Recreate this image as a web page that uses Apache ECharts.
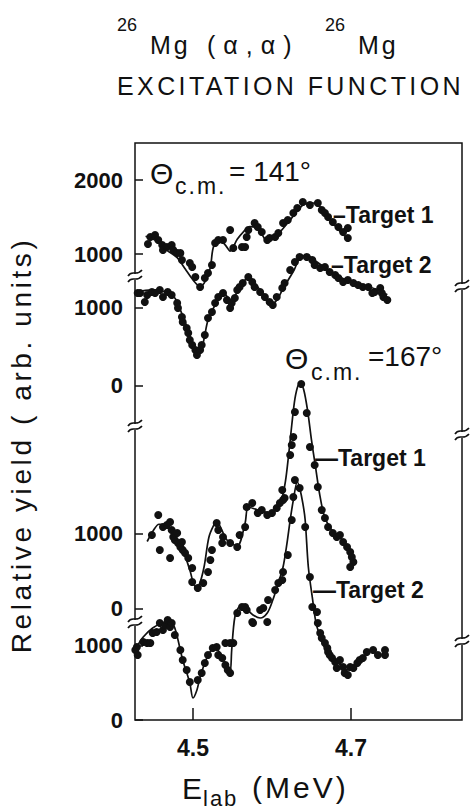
<!DOCTYPE html>
<html>
<head>
<meta charset="utf-8">
<script src="https://cdn.jsdelivr.net/npm/echarts@6/dist/echarts.min.js"></script>
<style>
  html, body { margin: 0; padding: 0; background: #fff; }
  #chart { width: 474px; height: 810px; }
</style>
</head>
<body>
<div id="chart"></div>
<script>
// 26Mg(alpha,alpha)26Mg excitation function: laboratory energy (MeV) vs relative yield (arb. units)

// theta_cm = 141 deg, target 1
const dots141T1 = [
  [4.443,1135],[4.446,1230],[4.452,1257],[4.456,1189],[4.461,1122],[4.462,1054],[4.467,1095],
  [4.473,1122],[4.475,1054],[4.480,1014],[4.484,1014],[4.486,919],[4.496,878],[4.499,824],
  [4.503,689],[4.509,554],[4.515,676],[4.519,743],[4.524,851],[4.528,1149],[4.532,1189],
  [4.538,1189],[4.547,1324],[4.551,1081],[4.562,1095],[4.566,1095],[4.568,1230],[4.570,1324],
  [4.578,1419],[4.582,1365],[4.587,1297],[4.594,1189],[4.597,1216],[4.604,1230],[4.608,1284],
  [4.614,1419],[4.620,1459],[4.627,1554],[4.632,1622],[4.639,1703],[4.648,1662],[4.658,1689],
  [4.663,1594],[4.667,1554],[4.671,1500],[4.677,1432],[4.684,1365],[4.690,1297],[4.696,1351],
  [4.696,1216]
];
const fit141T1 = [
  [4.440,1240],[4.455,1170],[4.467,1050],[4.480,950],[4.490,800],[4.500,650],[4.509,560],
  [4.516,640],[4.522,820],[4.526,1100],[4.534,1190],[4.541,1120],[4.547,1040],[4.556,1200],
  [4.563,1290],[4.572,1370],[4.580,1350],[4.588,1250],[4.594,1170],[4.606,1250],[4.623,1460],
  [4.639,1660],[4.650,1690],[4.658,1670],[4.673,1470],[4.690,1260],[4.699,1200]
];

// theta_cm = 141 deg, target 2
const dots141T2 = [
  [4.430,1192],[4.433,1192],[4.439,1077],[4.442,1167],[4.448,1205],[4.452,1192],[4.458,1231],
  [4.462,1141],[4.468,1205],[4.473,1167],[4.480,1064],[4.481,1000],[4.486,885],[4.487,821],
  [4.492,744],[4.494,679],[4.496,590],[4.499,526],[4.503,462],[4.505,397],[4.509,462],
  [4.511,526],[4.515,654],[4.519,872],[4.524,949],[4.528,1064],[4.532,1141],[4.538,1192],
  [4.543,1103],[4.547,1000],[4.549,1064],[4.553,1128],[4.556,1231],[4.559,1269],[4.563,1321],
  [4.570,1397],[4.575,1333],[4.578,1269],[4.585,1205],[4.591,1141],[4.597,1077],[4.601,1038],
  [4.606,1141],[4.613,1256],[4.616,1321],[4.623,1487],[4.629,1590],[4.635,1654],[4.644,1654],
  [4.651,1615],[4.654,1551],[4.661,1513],[4.667,1526],[4.673,1462],[4.680,1423],[4.684,1385],
  [4.690,1333],[4.696,1359],[4.703,1321],[4.709,1295],[4.715,1269],[4.722,1269],[4.727,1192],
  [4.730,1205],[4.737,1256],[4.739,1192],[4.741,1141],[4.746,1103]
];
const fit141T2 = [
  [4.428,1200],[4.448,1231],[4.465,1205],[4.477,1128],[4.485,950],[4.490,821],[4.499,560],
  [4.505,400],[4.512,520],[4.519,846],[4.528,1040],[4.537,1220],[4.543,1150],[4.549,1100],
  [4.559,1269],[4.570,1385],[4.582,1269],[4.597,1077],[4.602,1064],[4.615,1269],[4.628,1487],
  [4.636,1654],[4.645,1667],[4.657,1590],[4.673,1475],[4.694,1359],[4.715,1295],[4.732,1240],
  [4.746,1170]
];

// theta_cm = 167 deg, target 1
const dots167T1 = [
  [4.448,987],[4.456,1253],[4.458,787],[4.462,1093],[4.467,1120],[4.471,1160],[4.471,680],
  [4.473,1053],[4.475,960],[4.477,920],[4.480,1013],[4.481,880],[4.484,827],[4.486,893],
  [4.487,787],[4.490,747],[4.494,680],[4.499,547],[4.499,360],[4.506,280],[4.513,347],
  [4.519,493],[4.522,653],[4.524,787],[4.530,1147],[4.532,1053],[4.537,880],[4.538,960],
  [4.547,880],[4.556,827],[4.559,987],[4.566,1093],[4.568,1360],[4.575,1413],[4.582,1280],
  [4.587,1320],[4.594,1253],[4.600,1280],[4.606,1347],[4.610,1413],[4.614,1453],[4.613,1587],
  [4.616,1480],[4.623,2053],[4.625,2187],[4.627,2293],[4.629,2627],[4.637,3000],[4.644,2613],
  [4.648,2160],[4.654,1920],[4.658,1627],[4.663,1320],[4.667,1213],[4.671,1093],[4.677,1013],
  [4.682,960],[4.686,987],[4.690,893],[4.695,827],[4.699,760],[4.701,693],[4.703,627],
  [4.699,560]
];
const fit167T1 = [
  [4.442,900],[4.450,1050],[4.457,1130],[4.467,1120],[4.477,950],[4.487,790],[4.496,520],
  [4.503,300],[4.508,330],[4.514,560],[4.520,950],[4.526,1110],[4.530,1160],[4.543,920],
  [4.556,840],[4.566,1147],[4.570,1360],[4.582,1320],[4.598,1280],[4.608,1390],[4.612,1450],
  [4.617,1700],[4.621,2050],[4.625,2450],[4.629,2800],[4.633,2980],[4.636,3000],[4.640,2930],
  [4.645,2650],[4.650,2250],[4.655,1900],[4.660,1550],[4.666,1250],[4.675,1060],[4.688,930],
  [4.703,650]
];

// theta_cm = 167 deg, target 2
const dots167T2 = [
  [4.427,946],[4.429,986],[4.430,878],[4.437,1054],[4.442,1040],[4.446,1040],[4.449,1176],
  [4.454,1189],[4.458,1311],[4.462,1216],[4.465,1284],[4.468,1351],[4.471,1257],[4.473,1311],
  [4.477,1149],[4.484,946],[4.487,811],[4.492,676],[4.496,514],[4.506,540],[4.511,635],
  [4.515,770],[4.519,878],[4.525,973],[4.530,986],[4.532,878],[4.537,838],[4.541,743],
  [4.544,676],[4.547,635],[4.541,1040],[4.547,1040],[4.551,1040],[4.556,1446],[4.562,1527],
  [4.566,1527],[4.568,1486],[4.575,1324],[4.576,1311],[4.585,1486],[4.589,1513],[4.594,1324],
  [4.595,1621],[4.604,1756],[4.608,1851],[4.613,1891],[4.614,2000],[4.620,2229],[4.625,2702],
  [4.627,3013],[4.629,3243],[4.635,3135],[4.642,2608],[4.648,1932],[4.651,1527],[4.657,1459],
  [4.658,1311],[4.661,1176],[4.663,1108],[4.667,1040],[4.670,973],[4.671,919],[4.673,878],
  [4.676,838],[4.680,784],[4.682,703],[4.686,811],[4.690,716],[4.692,635],[4.696,608],
  [4.699,716],[4.703,703],[4.708,770],[4.711,811],[4.715,838],[4.720,919],[4.728,946],
  [4.734,878],[4.743,878],[4.743,946]
];
const fit167T2 = [
  [4.428,973],[4.437,1121],[4.449,1243],[4.461,1311],[4.471,1324],[4.477,1243],[4.487,811],
  [4.496,500],[4.500,297],[4.505,405],[4.509,581],[4.518,851],[4.528,986],[4.534,905],
  [4.543,716],[4.547,649],[4.549,946],[4.553,1392],[4.559,1527],[4.566,1513],[4.576,1419],
  [4.585,1378],[4.594,1446],[4.601,1621],[4.608,1851],[4.614,2067],[4.619,2391],[4.623,2702],
  [4.627,2972],[4.632,3216],[4.635,3135],[4.639,2932],[4.642,2702],[4.646,2067],[4.651,1662],
  [4.657,1257],[4.673,851],[4.684,770],[4.695,676],[4.705,676]
];

// tick values per panel (top to bottom)
const xTicks = [4.5, 4.7];
const yTicks141T1 = [1000, 2000];
const yTicks141T2 = [0, 1000];
const yTicks167T1 = [0, 1000];
const yTicks167T2 = [0, 1000];

const INK = '#111';
const FONT = '"Liberation Sans", Arial, sans-serif';

// all panels share one frame; each panel has its own vertical scale
const frame = { left: 135, right: 12, top: 143, bottom: 90 };
const panelRanges = [
  { min: -5297, max: 2500, ticks: yTicks141T1 },
  { min: -4282, max: 3115, ticks: yTicks141T2 },
  { min: -1480, max: 6213, ticks: yTicks167T1 },
  { min: 0,     max: 7797, ticks: yTicks167T2 }
];

const grids = panelRanges.map((p, i) => Object.assign({
  show: i === 0, borderColor: INK, borderWidth: 1.5, backgroundColor: 'transparent'
}, frame));

const xAxes = panelRanges.map((p, i) => ({
  type: 'value', gridIndex: i, min: 4.4266, max: 4.8405,
  show: i === 3,
  axisLine: { show: false },
  splitLine: { show: false },
  axisTick: { show: true, inside: true, length: 12, customValues: xTicks, lineStyle: { color: INK, width: 1.5 } },
  axisLabel: {
    show: true, customValues: xTicks, margin: 16, color: INK,
    fontFamily: FONT, fontWeight: 'bold', fontSize: 23,
    formatter: v => v.toFixed(1)
  }
}));

const yAxes = panelRanges.map((p, i) => ({
  type: 'value', gridIndex: i, min: p.min, max: p.max,
  axisLine: { show: false },
  splitLine: { show: false },
  axisTick: { show: true, inside: true, length: 8, customValues: p.ticks, lineStyle: { color: INK, width: 1.5 } },
  axisLabel: {
    show: true, customValues: p.ticks, margin: 12, color: INK,
    fontFamily: FONT, fontWeight: 'bold', fontSize: 22,
    formatter: v => String(Math.round(v))
  }
}));

function dotSeries(data, i) {
  return {
    type: 'scatter', xAxisIndex: i, yAxisIndex: i, data,
    symbol: 'circle', symbolSize: 8, silent: true,
    itemStyle: { color: INK, opacity: 1 }
  };
}
function fitSeries(data, i) {
  return {
    type: 'line', xAxisIndex: i, yAxisIndex: i, data,
    showSymbol: false, smooth: 0.3, silent: true,
    lineStyle: { color: INK, width: 1.7 }
  };
}

// axis-break marks on both frame sides: two wavy strokes over a gap
function wave(dy) {
  return {
    type: 'bezierCurve',
    shape: { x1: -7, y1: dy + 2, cpx1: -3, cpy1: dy - 5, cpx2: 1, cpy2: dy + 3, x2: 7, y2: dy - 4 },
    style: { fill: null, stroke: INK, lineWidth: 1.6 }
  };
}
function breakMark(x, y) {
  return {
    type: 'group', x, y, silent: true,
    children: [
      { type: 'rect', shape: { x: -3, y: -3, width: 6, height: 6 }, style: { fill: '#fff' } },
      wave(-3), wave(3)
    ]
  };
}

function label(text, x, y, size, opts) {
  opts = opts || {};
  return {
    type: 'text', x, y, rotation: opts.rotation || 0, silent: true,
    style: {
      text, fill: INK,
      font: (opts.weight || 'normal') + ' ' + size + 'px ' + (opts.family || FONT),
      align: opts.align || 'left', verticalAlign: 'middle'
    }
  };
}

const graphics = [
  // title
  label('26', 117, 25, 18),
  label('Mg', 150, 45, 25),
  label('(α,α)', 207, 45, 25),
  label('26', 325, 25, 18),
  label('Mg', 358, 45, 25),
  label('EXCITATION FUNCTION', 117, 86, 25),
  // axis names
  label('Relative yield ( arb. units)', 21, 445, 28, { rotation: Math.PI / 2, align: 'center' }),
  label('E', 182, 788, 30),
  label('lab', 203, 798, 22),
  label('(MeV)', 252, 787, 30),
  // panel annotations
  label('Θ', 150, 173, 30),
  label('c.m.', 175, 186, 23),
  label('= 141°', 229, 171, 28),
  label('–Target 1', 333, 215, 23, { weight: 'bold' }),
  label('–Target 2', 331, 265, 23, { weight: 'bold' }),
  label('Θ', 285, 358, 30),
  label('c.m.', 311, 372, 23),
  label('=167°', 368, 356, 28),
  label('—Target 1', 315, 458, 23, { weight: 'bold' }),
  label('—Target 2', 313, 590, 23, { weight: 'bold' }),
  // breaks
  breakMark(135, 277), breakMark(135, 427), breakMark(135, 623),
  breakMark(462, 287), breakMark(462, 435), breakMark(462, 642)
];

const chart = echarts.init(document.getElementById('chart'), null, { renderer: 'svg' });
chart.setOption({
  backgroundColor: '#fff',
  animation: false,
  grid: grids,
  xAxis: xAxes,
  yAxis: yAxes,
  series: [
    dotSeries(dots141T1, 0), fitSeries(fit141T1, 0),
    dotSeries(dots141T2, 1), fitSeries(fit141T2, 1),
    dotSeries(dots167T1, 2), fitSeries(fit167T1, 2),
    dotSeries(dots167T2, 3), fitSeries(fit167T2, 3)
  ],
  graphic: graphics
});

// widen the letter-spaced lettering
const tracking = {
  'EXCITATION FUNCTION': 3.4,
  'Relative yield ( arb. units)': 3.6,
  'Mg': 3,
  '(α,α)': 8,
  '(MeV)': 3,
  'c.m.': 2,
  'lab': 2
};
function applyTracking() {
  document.querySelectorAll('#chart svg text').forEach(t => {
    const s = tracking[t.textContent];
    if (s) t.setAttribute('letter-spacing', s + 'px');
  });
}
chart.on('finished', applyTracking);
applyTracking();
setTimeout(applyTracking, 0);
</script>
</body>
</html>
